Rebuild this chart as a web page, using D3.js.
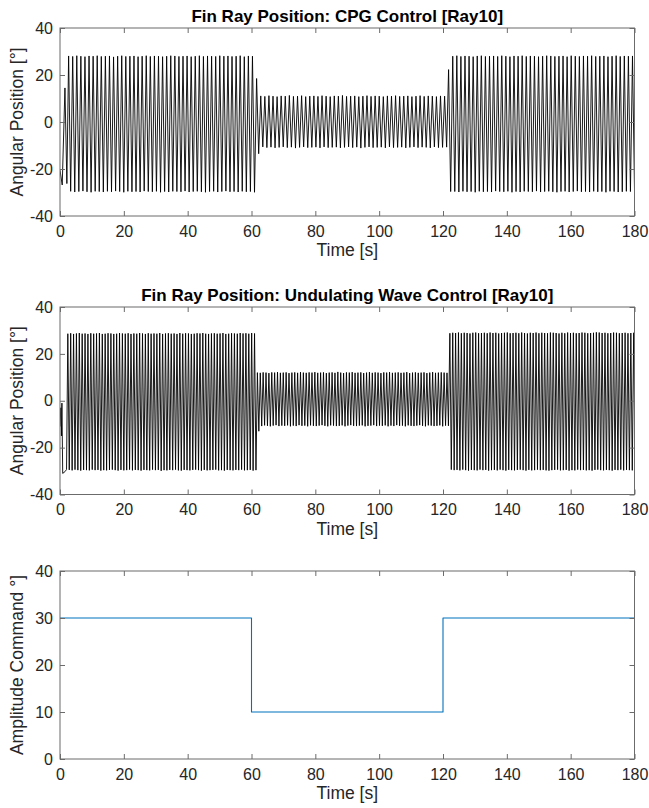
<!DOCTYPE html>
<html><head><meta charset="utf-8">
<script src="https://cdn.jsdelivr.net/npm/d3@7"></script>
<style>
html,body{margin:0;padding:0;background:#fff;}
svg text{font-family:"Liberation Sans",Arial,Helvetica,sans-serif;}
</style></head>
<body><svg id="c" width="649" height="808"></svg>
<script>
// ---------------- DATA ----------------
const xTicks = [0,20,40,60,80,100,120,140,160,180];
const angleTicks = [-40,-20,0,20,40];
const ampTicks = [0,10,20,30,40];

const titles = ["Fin Ray Position: CPG Control [Ray10]", "Fin Ray Position: Undulating Wave Control [Ray10]", ""];
const yLabels = ["Angular Position [°]", "Angular Position [°]", "Amplitude Command °]"];
const xLabel = "Time [s]";

// CPG control: lead-in (time s, angle deg), then cycles (peak, trough) per segment
const cpgLeadIn = [[0,-20.5],[0.7,-26.8],[1.55,14.5],[2.15,-26.2]];
const cpgPeriod = 1.28;
const cpgSeg1Start = 2.7;
const cpgSeg1Peaks = [28.1,27.9,28.2,28.0,27.8,28.1,28.0,28.2,27.9,28.0,28.1,27.7,28.0,28.2,27.9,28.0,28.1,27.8,28.0,28.2,27.9,28.1,28.0,27.8,28.0,28.2,28.1,27.9,28.0,28.1,27.8,28.0,28.2,27.9,28.1,28.0,27.9,28.2,28.0,28.1,27.9,28.0,28.2,27.8,28.1,28.0];
const cpgSeg1Troughs = [-29.5,-29.8,-29.6,-29.4,-29.7,-29.9,-29.5,-29.6,-29.8,-29.5,-29.7,-29.4,-29.6,-29.9,-29.5,-29.7,-29.6,-29.8,-29.4,-29.6,-29.7,-29.5,-29.9,-29.6,-29.8,-29.5,-29.6,-29.7,-29.4,-29.8,-29.6,-29.5,-29.7,-29.9,-29.6,-29.5,-29.8,-29.6,-29.4,-29.7,-29.6,-29.8,-29.5,-29.7,-29.6,-29.9];
const cpgTrans1 = [[61.6,18.5],[62.25,-13.5]];
const cpgSeg2Start = 62.9;
const cpgSeg2Peaks = [11.1,10.9,11.2,11.0,10.8,11.1,11.0,11.3,10.9,11.0,11.2,10.8,11.0,11.1,10.9,11.2,11.0,10.8,11.1,11.0,11.3,10.9,11.0,11.1,10.8,11.0,11.2,10.9,11.1,11.0,10.8,11.1,11.0,11.2,10.9,11.0,11.1,10.8,11.0,11.2,10.9,11.1,11.0,10.8,11.1,11.0];
const cpgSeg2Troughs = [-10.6,-10.9,-10.7,-11.0,-10.8,-10.6,-10.9,-10.7,-11.1,-10.8,-10.6,-10.9,-10.8,-10.7,-11.0,-10.6,-10.9,-10.8,-10.7,-11.0,-10.8,-10.6,-10.9,-10.7,-11.1,-10.8,-10.6,-10.9,-10.8,-10.7,-11.0,-10.6,-10.9,-10.8,-10.7,-11.0,-10.8,-10.6,-10.9,-10.7,-10.8,-11.0,-10.6,-10.9,-10.8,-10.7];
const cpgTrans2 = [[121.75,22.3],[122.4,-29.6]];
const cpgSeg3Start = 123.05;
const cpgSeg3Peaks = [28.0,28.2,27.9,28.1,28.0,27.8,28.1,28.2,27.9,28.0,28.1,27.9,28.2,28.0,27.8,28.1,28.0,28.2,27.9,28.1,28.0,27.8,28.0,28.2,28.1,27.9,28.0,28.1,27.8,28.2,28.0,27.9,28.1,28.0,28.2,27.9,28.0,28.1,27.8,28.0,28.2,27.9,28.1,28.0,28.1];
const cpgSeg3Troughs = [-29.6,-29.8,-29.5,-29.7,-29.6,-29.9,-29.5,-29.7,-29.6,-29.8,-29.4,-29.6,-29.7,-29.5,-29.9,-29.6,-29.8,-29.5,-29.6,-29.7,-29.4,-29.8,-29.6,-29.5,-29.7,-29.9,-29.6,-29.5,-29.8,-29.6,-29.4,-29.7,-29.6,-29.8,-29.5,-29.7,-29.6,-29.9,-29.5,-29.6,-29.8,-29.7,-29.5,-29.6,-29.8];

// Undulating wave control
const waveLeadIn = [[0,-11],[0.25,-3],[0.45,-15],[0.6,-1],[0.85,-31],[1.6,-30.2],[2.05,-29.3]];
const wavePeriod = 0.9;
const waveSeg1Start = 2.45;
const waveSeg1Peaks = [28.6,28.8,28.5,28.7,28.9,28.6,28.7,28.5,28.8,28.6,28.7,28.9,28.5,28.6,28.8,28.7,28.5,28.6,28.9,28.7,28.6,28.8,28.5,28.7,28.6,28.9,28.7,28.5,28.8,28.6,28.7,28.6,28.9,28.5,28.7,28.8,28.6,28.7,28.5,28.9,28.6,28.8,28.7,28.5,28.6,28.8,28.7,28.9,28.6,28.5,28.7,28.8,28.6,28.7,28.9,28.5,28.6,28.8,28.7,28.6,28.9,28.7,28.8,28.6,28.9,28.7];
const waveSeg1Troughs = [-29.5,-29.7,-29.4,-29.6,-29.8,-29.5,-29.6,-29.7,-29.4,-29.6,-29.5,-29.8,-29.6,-29.7,-29.5,-29.4,-29.6,-29.8,-29.5,-29.7,-29.6,-29.4,-29.7,-29.5,-29.6,-29.8,-29.5,-29.6,-29.7,-29.4,-29.6,-29.5,-29.9,-29.6,-29.7,-29.5,-29.6,-29.4,-29.7,-29.8,-29.5,-29.6,-29.7,-29.5,-29.4,-29.6,-29.8,-29.5,-29.7,-29.6,-29.5,-29.4,-29.7,-29.6,-29.8,-29.5,-29.6,-29.7,-29.5,-29.6,-29.4,-29.7,-29.6,-29.5,-29.8,-29.6];
const waveSeg2Start = 61.85;
const waveSeg2Peaks = [12.0,11.9,12.1,12.0,11.8,12.1,12.0,12.2,11.9,12.0,12.1,11.8,12.0,12.1,11.9,12.2,12.0,11.9,12.1,12.0,12.2,11.9,12.0,12.1,11.8,12.0,12.1,11.9,12.3,12.0,11.8,12.1,12.0,12.2,11.9,12.0,12.1,11.8,12.0,12.2,11.9,12.1,12.0,11.8,12.1,12.0,12.2,11.9,12.0,12.1,11.9,12.0,12.2,11.8,12.0,12.1,11.9,12.0,12.1,11.8,12.0,12.2,11.9,12.0,12.1,12.0,11.9];
const waveSeg2Troughs = [-13.0,-10.8,-10.5,-10.7,-10.9,-10.6,-10.4,-10.8,-10.6,-10.7,-10.5,-10.9,-10.6,-10.8,-10.4,-10.7,-10.6,-10.9,-10.5,-10.7,-10.8,-10.6,-10.4,-10.7,-10.9,-10.5,-10.6,-10.8,-10.7,-10.5,-10.9,-10.6,-10.4,-10.7,-10.8,-10.6,-10.5,-10.9,-10.7,-10.6,-10.4,-10.8,-10.6,-10.7,-10.5,-10.9,-10.6,-10.8,-10.4,-10.7,-10.6,-10.9,-10.5,-10.7,-10.8,-10.6,-10.4,-10.7,-10.9,-10.5,-10.6,-10.8,-10.7,-10.5,-10.9,-10.6,-10.7];
const waveSeg3Start = 122.15;
const waveSeg3Peaks = [28.8,29.0,28.9,29.1,28.8,29.0,28.9,28.7,29.0,29.1,28.8,28.9,29.0,28.8,29.1,28.9,29.0,28.7,28.9,29.0,29.1,28.8,28.9,29.0,28.8,29.1,28.9,28.7,29.0,28.9,29.1,28.8,29.0,28.9,28.8,29.1,29.0,28.9,28.7,29.0,28.8,29.1,28.9,29.0,28.8,28.9,29.1,29.0,28.8,28.9,29.0,29.2,29.1,28.9,29.0,28.8,28.9,29.1,29.0,28.8,28.9,29.0,28.8,28.9,29.0];
const waveSeg3Troughs = [-29.4,-29.6,-29.5,-29.7,-29.4,-29.6,-29.8,-29.5,-29.6,-29.7,-29.4,-29.6,-29.5,-29.8,-29.6,-29.5,-29.7,-29.4,-29.6,-29.8,-29.5,-29.6,-29.7,-29.5,-29.4,-29.6,-29.8,-29.5,-29.7,-29.6,-29.4,-29.6,-29.5,-29.7,-29.8,-29.6,-29.5,-29.4,-29.7,-29.6,-29.5,-29.8,-29.6,-29.7,-29.4,-29.6,-29.5,-29.7,-29.6,-29.8,-29.5,-29.4,-29.6,-29.7,-29.5,-29.6,-29.8,-29.5,-29.6,-29.4,-29.7,-29.5,-29.6,-29.7,-29.5];

// Amplitude command (step changes: time s, amplitude deg)
const cmdTimes = [0,60,120,180];
const cmdValues = [30,10,30,30];

// ---------------- BUILD SERIES ----------------
function cycles(start, period, peaks, troughs){
  const out = [];
  peaks.forEach((p,i)=>{
    out.push([start + i*period, p]);
    if (i < troughs.length) out.push([start + i*period + period/2, troughs[i]]);
  });
  return out;
}
const cpgSeries = [].concat(cpgLeadIn, cycles(cpgSeg1Start,cpgPeriod,cpgSeg1Peaks,cpgSeg1Troughs), cpgTrans1,
  cycles(cpgSeg2Start,cpgPeriod,cpgSeg2Peaks,cpgSeg2Troughs), cpgTrans2, cycles(cpgSeg3Start,cpgPeriod,cpgSeg3Peaks,cpgSeg3Troughs));
const waveSeries = [].concat(waveLeadIn, cycles(waveSeg1Start,wavePeriod,waveSeg1Peaks,waveSeg1Troughs),
  cycles(waveSeg2Start,wavePeriod,waveSeg2Peaks,waveSeg2Troughs), cycles(waveSeg3Start,wavePeriod,waveSeg3Peaks,waveSeg3Troughs));
const cmdSeries = cmdTimes.map((t,i)=>[t,cmdValues[i]]);

// ---------------- DRAW ----------------
const svg = d3.select("#c");
const L = 60, R = 634.5;
const panels = [
  {top:28, bottom:216, ydom:[-40,40], yt:angleTicks, data:cpgSeries, color:"#000", curve:d3.curveLinear, sw:0.9},
  {top:307, bottom:494.5, ydom:[-40,40], yt:angleTicks, data:waveSeries, color:"#000", curve:d3.curveLinear, sw:0.9},
  {top:571, bottom:759, ydom:[0,40], yt:ampTicks, data:cmdSeries, color:"#0072BD", curve:d3.curveStepAfter, sw:1.1}
];
const axisCol = "#6b6b6b", textCol = "#262626";

panels.forEach((p,pi)=>{
  const x = d3.scaleLinear().domain([0,180]).range([L,R]);
  const y = d3.scaleLinear().domain(p.ydom).range([p.bottom,p.top]);
  const g = svg.append("g");
  const cid = "clip"+pi;
  g.append("clipPath").attr("id",cid).append("rect").attr("x",L).attr("y",p.top).attr("width",R-L).attr("height",p.bottom-p.top);

  g.append("path").datum(p.data)
    .attr("clip-path",`url(#${cid})`)
    .attr("fill","none").attr("stroke",p.color).attr("stroke-width",p.sw).attr("stroke-linejoin","round")
    .attr("d", d3.line().x(d=>x(d[0])).y(d=>y(d[1])).curve(p.curve));

  const tk = 5;
  const ax = (sel)=>{ sel.select(".domain").remove(); sel.selectAll("line").attr("stroke",axisCol); sel.selectAll("text").attr("fill",textCol).style("font-size","16px"); };
  g.append("g").attr("transform",`translate(0,${p.bottom})`)
    .call(d3.axisBottom(x).tickValues(xTicks).tickSize(-tk).tickPadding(9.5).tickFormat(d3.format("d"))).call(ax);
  g.append("g").attr("transform",`translate(0,${p.top})`)
    .call(d3.axisTop(x).tickValues(xTicks).tickSize(-tk).tickFormat("")).call(ax);
  g.append("g").attr("transform",`translate(${L},0)`)
    .call(d3.axisLeft(y).tickValues(p.yt).tickSize(-tk).tickPadding(7).tickFormat(d3.format("d"))).call(ax);
  g.append("g").attr("transform",`translate(${R},0)`)
    .call(d3.axisRight(y).tickValues(p.yt).tickSize(-tk).tickFormat("")).call(ax);
  g.selectAll(".tick text").each(function(){ const t=d3.select(this); t.text(t.text().replace("\u2212","-")); });

  g.append("rect").attr("x",L).attr("y",p.top).attr("width",R-L).attr("height",p.bottom-p.top)
    .attr("fill","none").attr("stroke",axisCol).attr("stroke-width",1);

  if (titles[pi]) g.append("text").attr("x",(L+R)/2).attr("y",p.top-6).attr("text-anchor","middle")
    .attr("fill","#000").style("font-size","17px").style("font-weight","bold").text(titles[pi]);
  g.append("text").attr("x",(L+R)/2).attr("y",p.bottom+40).attr("text-anchor","middle")
    .attr("fill",textCol).style("font-size","17.5px").text(xLabel);
  g.append("text").attr("transform",`translate(23,${(p.top+p.bottom)/2}) rotate(-90)`).attr("text-anchor","middle")
    .attr("fill",textCol).style("font-size","17.5px").text(yLabels[pi]);
});
</script></body></html>
